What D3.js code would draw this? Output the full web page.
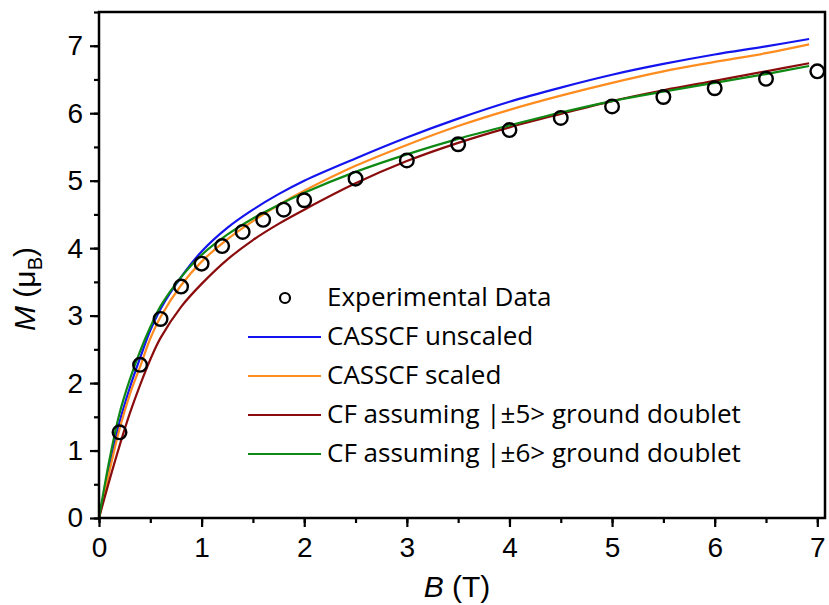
<!DOCTYPE html>
<html>
<head>
<meta charset="utf-8">
<script src="https://cdn.jsdelivr.net/npm/d3@7"></script>
<style>
  html, body { margin: 0; padding: 0; background: #fff; }
  svg { display: block; }
</style>
</head>
<body>
<svg id="chart" width="829" height="605"></svg>
<script>
// ---------------- data ----------------
const xTicks = [0, 1, 2, 3, 4, 5, 6, 7];
const yTicks = [0, 1, 2, 3, 4, 5, 6, 7];

const expB = [0.2, 0.4, 0.6, 0.8, 1.0, 1.2, 1.4, 1.6, 1.8, 2.0, 2.5, 3.0, 3.5, 4.0, 4.5, 5.0, 5.5, 6.0, 6.5, 7.0];
const expM = [1.27, 2.27, 2.95, 3.43, 3.77, 4.03, 4.24, 4.42, 4.57, 4.71, 5.03, 5.30, 5.54, 5.75, 5.93, 6.10, 6.24, 6.37, 6.51, 6.62];

const curveB = [0, 0.1, 0.2, 0.3, 0.4, 0.5, 0.6, 0.8, 1.0, 1.25, 1.5, 1.75, 2.0, 2.5, 3.0, 3.5, 4.0, 4.5, 5.0, 5.5, 6.0, 6.5, 6.92];
const casscfUnscaled = [0, 0.74, 1.42, 1.93, 2.37, 2.78, 3.10, 3.57, 3.95, 4.30, 4.57, 4.80, 5.00, 5.33, 5.64, 5.92, 6.17, 6.38, 6.57, 6.73, 6.87, 6.99, 7.10];
const casscfScaled   = [0, 0.68, 1.32, 1.83, 2.24, 2.66, 2.98, 3.45, 3.80, 4.13, 4.40, 4.64, 4.85, 5.22, 5.53, 5.81, 6.05, 6.26, 6.45, 6.62, 6.76, 6.89, 7.02];
const cfPm5          = [0, 0.55, 1.07, 1.55, 1.97, 2.35, 2.67, 3.13, 3.47, 3.83, 4.12, 4.36, 4.57, 4.96, 5.29, 5.56, 5.79, 5.99, 6.18, 6.34, 6.48, 6.62, 6.74];
const cfPm6          = [0, 0.85, 1.55, 2.05, 2.47, 2.83, 3.14, 3.57, 3.90, 4.20, 4.44, 4.64, 4.82, 5.13, 5.39, 5.62, 5.82, 6.01, 6.18, 6.32, 6.45, 6.58, 6.70];

const seriesNames  = ["CASSCF unscaled", "CASSCF scaled", "CF assuming |\u00b15> ground doublet", "CF assuming |\u00b16> ground doublet"];
const seriesValues = [casscfUnscaled, casscfScaled, cfPm5, cfPm6];
const seriesColors = ["#1414ee", "#ff8c1e", "#8a0c0c", "#0e8a14"];
const expName = "Experimental Data";

// ---------------- layout ----------------
const svg = d3.select("#chart");
const L = 99, R = 825, T = 12, Bm = 518;
const x = d3.scaleLinear().domain([0, 7.075]).range([L, R]);
const y = d3.scaleLinear().domain([0, 7.5]).range([Bm, T]);

const tickFont = "'Liberation Sans', Arial, sans-serif";

// curves
const line = d3.line().x(d => x(d[0])).y(d => y(d[1])).curve(d3.curveCatmullRom.alpha(0.5));
seriesValues.forEach((vals, i) => {
  svg.append("path")
    .datum(curveB.map((b, j) => [b, vals[j]]))
    .attr("d", line)
    .attr("fill", "none")
    .attr("stroke", seriesColors[i])
    .attr("stroke-width", 2.2);
});

// experimental circles
svg.append("g").selectAll("circle")
  .data(expB.map((b, i) => [b, expM[i]]))
  .join("circle")
  .attr("cx", d => x(d[0]))
  .attr("cy", d => y(d[1]))
  .attr("r", 6.8)
  .attr("fill", "none")
  .attr("stroke", "#000")
  .attr("stroke-width", 2.4);

// axes
const minorX = d3.range(0, 7.01, 0.5);
const minorY = d3.range(0, 7.51, 0.5);

const xAxis = d3.axisBottom(x).tickValues(xTicks).tickSize(9).tickPadding(10).tickFormat(d3.format("d"));
const xMinor = d3.axisBottom(x).tickValues(minorX).tickSize(5).tickFormat("");
const yAxis = d3.axisLeft(y).tickValues(yTicks).tickSize(9).tickPadding(7).tickFormat(d3.format("d"));
const yMinor = d3.axisLeft(y).tickValues(minorY).tickSize(5).tickFormat("");

function styleAxis(g) {
  g.select(".domain").remove();
  g.selectAll("line").attr("stroke", "#000").attr("stroke-width", 2.2);
  g.selectAll("text").attr("font-family", tickFont).attr("font-size", 28).attr("fill", "#000");
}
svg.append("g").attr("transform", `translate(0,${Bm})`).call(xMinor).call(styleAxis);
svg.append("g").attr("transform", `translate(0,${Bm})`).call(xAxis).call(styleAxis);
svg.append("g").attr("transform", `translate(${L},0)`).call(yMinor).call(styleAxis);
svg.append("g").attr("transform", `translate(${L},0)`).call(yAxis).call(styleAxis);

// frame
svg.append("rect")
  .attr("x", L).attr("y", T).attr("width", R - L).attr("height", Bm - T)
  .attr("fill", "none").attr("stroke", "#000").attr("stroke-width", 2.5);

// axis titles
const xt = svg.append("text")
  .attr("x", 457).attr("y", 597)
  .attr("text-anchor", "middle")
  .attr("font-family", tickFont).attr("font-size", 30).attr("fill", "#000");
xt.append("tspan").attr("font-style", "italic").text("B");
xt.append("tspan").text(" (T)");

const yt = svg.append("text")
  .attr("transform", "translate(35,289) rotate(-90)")
  .attr("text-anchor", "middle")
  .attr("font-family", tickFont).attr("font-size", 30).attr("fill", "#000");
yt.append("tspan").attr("font-style", "italic").text("M");
yt.append("tspan").text(" (\u03bc");
yt.append("tspan").attr("font-size", 20).attr("dy", 7).text("B");
yt.append("tspan").attr("dy", -7).text(")");

// legend
const legFont = "'Open Sans', 'Noto Sans', sans-serif";
const legX0 = 248, legX1 = 321, legTextX = 327;
const rowY = [298, 337, 376, 415, 454];
const lg = svg.append("g");
lg.append("circle").attr("cx", 285).attr("cy", rowY[0]).attr("r", 5)
  .attr("fill", "none").attr("stroke", "#000").attr("stroke-width", 2.2);
const texts = [expName].concat(seriesNames);
let fs = 24;
texts.forEach((t, i) => {
  if (i > 0) {
    lg.append("line").attr("x1", legX0).attr("x2", legX1).attr("y1", rowY[i]).attr("y2", rowY[i])
      .attr("stroke", seriesColors[i - 1]).attr("stroke-width", 2.2);
  }
  lg.append("text").attr("class", "legtext")
    .attr("x", legTextX).attr("y", rowY[i] + 8)
    .attr("font-family", legFont).attr("font-size", fs).attr("fill", "#000")
    .text(t);
});
// fit longest legend entry to its width in the reference (~414px)
const longest = lg.selectAll(".legtext").nodes()[4];
const w = longest.getComputedTextLength();
if (w > 0) {
  fs = fs * 414 / w;
  lg.selectAll(".legtext").attr("font-size", fs);
}
</script>
</body>
</html>
